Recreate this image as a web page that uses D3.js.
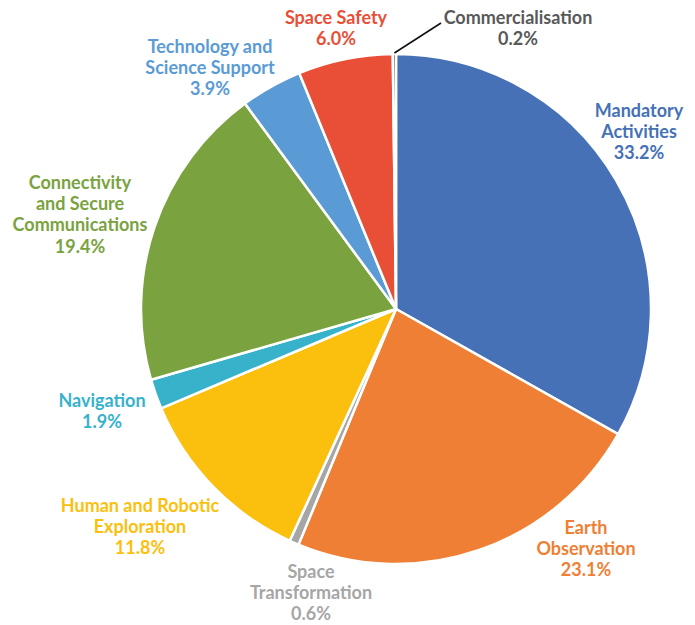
<!DOCTYPE html>
<html>
<head>
<meta charset="utf-8">
<script src="https://cdn.jsdelivr.net/npm/d3@7"></script>
<style>
  html, body { margin: 0; padding: 0; background: #fff; }
  svg { display: block; }
  text { font-family: Lato, "Open Sans", sans-serif; font-weight: 700; }
</style>
</head>
<body>
<svg id="chart" width="695" height="625"></svg>
<script>
// Budget share by programme area (%), clockwise from 12 o'clock
const categories = [
  "Mandatory Activities", "Earth Observation", "Space Transformation",
  "Human and Robotic Exploration", "Navigation",
  "Connectivity and Secure Communications", "Technology and Science Support",
  "Space Safety", "Commercialisation"
];
const shares = [33.2, 23.1, 0.6, 11.8, 1.9, 19.4, 3.9, 6.0, 0.2];
const shareLabels = ["33.2%", "23.1%", "0.6%", "11.8%", "1.9%", "19.4%", "3.9%", "6.0%", "0.2%"];

// How each category name is broken over lines
const labelLines = [
  ["Mandatory", "Activities"],
  ["Earth", "Observation"],
  ["Space", "Transformation"],
  ["Human and Robotic", "Exploration"],
  ["Navigation"],
  ["Connectivity", "and Secure", "Communications"],
  ["Technology and", "Science Support"],
  ["Space Safety"],
  ["Commercialisation"]
];

const sliceColors = ["#4671b6", "#ef7f34", "#a6a6a6", "#fbbf0e", "#38b2cb",
                     "#7aa23f", "#5b9bd5", "#e94f36", "#595959"];
const textColors  = ["#4671b6", "#ef7f34", "#a6a6a6", "#fbbf0e", "#38b2cb",
                     "#7aa23f", "#5b9bd5", "#e94f36", "#595959"];

// Text block anchors: centre x and first baseline y
const labelAnchors = [
  [639, 117], [586, 534], [311, 578], [140, 512], [102, 407],
  [80, 189], [210, 53], [336, 24], [518, 24]
];

const W = 695, H = 625;
const cx = 396, cy = 309, R = 255;
const lineGap = 21.2;

const svg = d3.select("#chart");
const g = svg.append("g").attr("transform", `translate(${cx},${cy})`);

const pie = d3.pie().sort(null).value(d => d.value).startAngle(0).endAngle(2 * Math.PI);
const data = categories.map((c, i) => ({ name: c, value: shares[i], i }));
const arcs = pie(data);
const arc = d3.arc().innerRadius(0).outerRadius(R);

g.selectAll("path.slice")
  .data(arcs)
  .join("path")
  .attr("class", "slice")
  .attr("d", arc)
  .attr("fill", d => sliceColors[d.data.i])
  .attr("stroke", "#fff")
  .attr("stroke-width", 2.5)
  .attr("stroke-linejoin", "round");

// Leader line for the thin Commercialisation slice
const comm = arcs[8];
const commMid = (comm.startAngle + comm.endAngle) / 2;
const lx0 = cx + Math.sin(commMid) * (R + 1);
const ly0 = cy - Math.cos(commMid) * (R + 1);
svg.append("line")
  .attr("x1", lx0).attr("y1", ly0)
  .attr("x2", labelAnchors[8][0] - 77).attr("y2", labelAnchors[8][1] - 1)
  .attr("stroke", "#111")
  .attr("stroke-width", 1.6);

// Labels
const labels = svg.selectAll("text.lbl")
  .data(arcs)
  .join("text")
  .attr("class", "lbl")
  .attr("text-anchor", "middle")
  .attr("font-size", 18)
  .attr("fill", d => textColors[d.data.i]);

labels.each(function(d) {
  const i = d.data.i;
  const [x, y] = labelAnchors[i];
  const lines = labelLines[i].concat([shareLabels[i]]);
  d3.select(this).selectAll("tspan")
    .data(lines)
    .join("tspan")
    .attr("x", x)
    .attr("y", (l, k) => y + k * lineGap)
    .text(l => l);
});
</script>
</body>
</html>
